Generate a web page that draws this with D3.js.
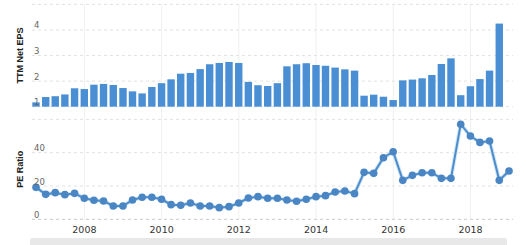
<html>
    <head>
        <script src="https://d3js.org/d3.v7.min.js"></script>
    </head>
    <body style="margin:0;background:#fff">
        <svg id="chart" width="532" height="245"></svg>
        <script>
            // quarter end dates
            const dates = [
                "2006-09-30","2006-12-31",
                "2007-03-31","2007-06-30","2007-09-30","2007-12-31",
                "2008-03-31","2008-06-30","2008-09-30","2008-12-31",
                "2009-03-31","2009-06-30","2009-09-30","2009-12-31",
                "2010-03-31","2010-06-30","2010-09-30","2010-12-31",
                "2011-03-31","2011-06-30","2011-09-30","2011-12-31",
                "2012-03-31","2012-06-30","2012-09-30","2012-12-31",
                "2013-03-31","2013-06-30","2013-09-30","2013-12-31",
                "2014-03-31","2014-06-30","2014-09-30","2014-12-31",
                "2015-03-31","2015-06-30","2015-09-30","2015-12-31",
                "2016-03-31","2016-06-30","2016-09-30","2016-12-31",
                "2017-03-31","2017-06-30","2017-09-30","2017-12-31",
                "2018-03-31","2018-06-30","2018-09-30","2018-12-31"
            ];
            const eps = [1.17,1.38,1.41,1.48,1.72,1.69,1.86,1.89,1.85,1.73,
                         1.60,1.52,1.77,1.92,2.07,2.29,2.32,2.47,2.66,2.71,
                         2.75,2.71,1.97,1.84,1.81,1.92,2.58,2.66,2.70,2.63,
                         2.60,2.53,2.46,2.41,1.43,1.47,1.39,1.26,2.03,2.06,
                         2.11,2.24,2.67,2.89,1.45,1.80,2.08,2.41,4.25];
            const pe = [19.2,15.0,16.0,14.8,15.6,12.6,11.4,11.0,8.0,8.0,
                        11.6,13.2,13.2,12.0,8.8,8.4,9.8,8.0,8.0,7.0,
                        7.6,9.8,12.8,13.6,12.6,12.6,11.6,10.8,12.0,13.6,
                        14.2,16.4,17.0,15.4,28.2,27.6,37.0,40.6,23.4,26.4,
                        28.0,28.0,24.6,24.6,57.1,50.0,46.2,47.0,23.4,29.0];
            const epsTicks = [1,2,3,4];
            const peTicks = [0,20,40];
            const yearTicks = [2008,2010,2012,2014,2016,2018];

            const parse = d3.utcParse("%Y-%m-%d");
            const svg = d3.select("#chart");
            const font = "'DejaVu Sans', Verdana, sans-serif";
            const blue = "#4a8fd3";

            const x = d3.scaleUtc()
                .domain([parse(dates[0]), parse(dates[dates.length-1])])
                .range([36, 509]);

            const yEps = d3.scaleLinear().domain([1,5]).range([106.7, 4.4]);
            const yPe = d3.scaleLinear().domain([0,60]).range([219.3, 119.4]);

            const plotL = 32, plotR = 513;

            // vertical grid
            svg.append("g").selectAll("line").data(yearTicks).join("line")
                .attr("x1", d => x(Date.UTC(d,0,1))).attr("x2", d => x(Date.UTC(d,0,1)))
                .attr("y1", 4).attr("y2", 220)
                .style("stroke", "#f0f0f0").style("stroke-width", 1);

            // horizontal grids
            svg.append("g").selectAll("line").data([1,2,3,4,5]).join("line")
                .attr("x1", plotL).attr("x2", plotR)
                .attr("y1", d => yEps(d)).attr("y2", d => yEps(d))
                .style("stroke", "#e2e2e2").style("stroke-dasharray", "3,3");
            svg.append("g").selectAll("line").data([0,20,40,60]).join("line")
                .attr("x1", plotL).attr("x2", plotR)
                .attr("y1", d => yPe(d)).attr("y2", d => yPe(d))
                .style("stroke", d => d == 0 ? "#c8c8c8" : "#e2e2e2").style("stroke-dasharray", "3,3");

            // bars
            const bw = 7.4;
            svg.append("g").selectAll("rect").data(eps).join("rect")
                .attr("x", (d,i) => x(parse(dates[i])) - bw/2)
                .attr("width", bw)
                .attr("y", d => yEps(d))
                .attr("height", d => yEps(1) - yEps(d))
                .style("fill", blue);

            // pe line
            const line = d3.line()
                .x((d,i) => x(parse(dates[i])))
                .y(d => yPe(d));
            svg.append("path").datum(pe)
                .attr("d", line)
                .style("fill", "none").style("stroke", "#cfe6f7").style("stroke-width", 4);
            svg.append("path").datum(pe)
                .attr("d", line)
                .style("fill", "none").style("stroke", "#4d8ccb").style("stroke-width", 2);
            svg.append("g").selectAll("circle").data(pe).join("circle")
                .attr("cx", (d,i) => x(parse(dates[i])))
                .attr("cy", d => yPe(d))
                .attr("r", 3.8)
                .style("fill", "#4a86c4");

            // y tick labels
            svg.append("g").selectAll("text").data(epsTicks).join("text")
                .attr("x", 34).attr("y", d => yEps(d) - 1.5)
                .text(d => d)
                .style("font-family", font).style("font-size", "8.5px").style("fill", "#666");
            svg.append("g").selectAll("text").data(peTicks).join("text")
                .attr("x", 34).attr("y", d => yPe(d) - 1.5)
                .text(d => d)
                .style("font-family", font).style("font-size", "8.5px").style("fill", "#666");

            // x tick labels
            svg.append("g").selectAll("text").data(yearTicks).join("text")
                .attr("x", d => x(Date.UTC(d,0,1)))
                .attr("y", 233)
                .attr("text-anchor", "middle")
                .text(d => d)
                .style("font-family", font).style("font-size", "9.5px").style("fill", "#333");

            // axis titles
            svg.append("text")
                .attr("transform", "translate(23," + ((yEps(1)+yEps(5))/2) + ") rotate(-90)")
                .attr("text-anchor", "middle")
                .text("TTM Net EPS")
                .style("font-family", "'Liberation Sans', Arial, sans-serif").style("font-weight", "bold")
                .style("font-size", "9px").style("fill", "#222");
            svg.append("text")
                .attr("transform", "translate(23," + ((yPe(0)+yPe(60))/2) + ") rotate(-90)")
                .attr("text-anchor", "middle")
                .text("PE Ratio")
                .style("font-family", "'Liberation Sans', Arial, sans-serif").style("font-weight", "bold")
                .style("font-size", "9px").style("fill", "#222");

            // navigator strip
            svg.append("rect")
                .attr("x", 30).attr("y", 238).attr("width", 477).attr("height", 8)
                .attr("rx", 2)
                .style("fill", "#e8e8e8");
        </script>
    </body>
</html>
